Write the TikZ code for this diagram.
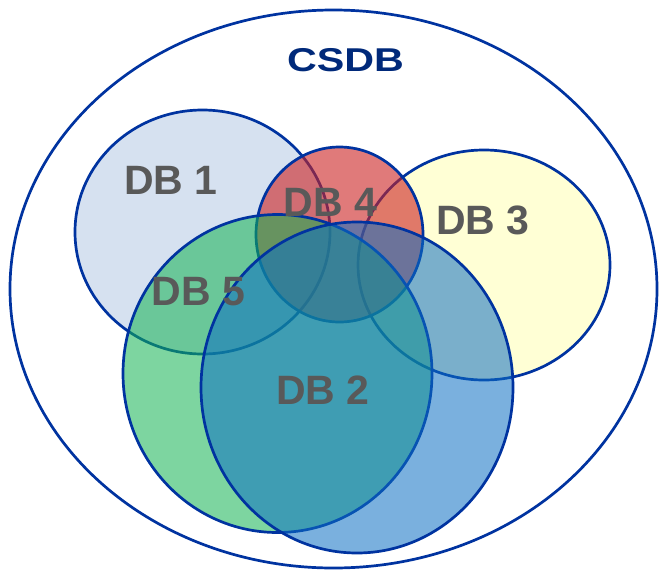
\documentclass[tikz,border=0pt]{standalone}
\usepackage{fontspec}
\setmainfont{Liberation Sans}
\usepackage{tikz}
\usetikzlibrary{shapes.geometric}
\definecolor{setline}{HTML}{0033A0}
\definecolor{labelgray}{HTML}{595959}
\definecolor{csdbblue}{HTML}{00297A}
\definecolor{dbonecol}{HTML}{D6E1F0}
\definecolor{dbthreecol}{HTML}{FFFFD5}
\definecolor{dbfourcol}{HTML}{CC2121}
\definecolor{dbfivecol}{HTML}{12B352}
\definecolor{dbtwocol}{HTML}{0D6FC3}
\tikzset{
  x=1pt, y=-1pt,
  dbset/.style={ellipse, draw=setline, line width=2.7pt, inner sep=0pt, outer sep=0pt},
  seethrough/.style={fill opacity=0.6},
  dblabel/.style={inner sep=0pt, text=labelgray, font=\bfseries\fontsize{41}{41}\selectfont},
}
\begin{document}
\begin{tikzpicture}
  \useasboundingbox (0,0) rectangle (660,570);

  % universe
  \node[dbset, minimum width=647pt, minimum height=558pt] (csdb) at (333.5,289) {};
  \node[inner sep=0pt, text=csdbblue, xscale=1.25,
        font=\bfseries\fontsize{33}{33}\selectfont] (csdbtext) at (345.5,60.5) {CSDB};

  % sets
  \node[dbset, fill=dbonecol, minimum width=255pt, minimum height=244pt] (db1) at (202.5,232) {};
  \node[dbset, fill=dbthreecol, minimum width=252pt, minimum height=230pt] (db3) at (484,265) {};
  \node[dbset, seethrough, fill=dbfourcol, minimum width=167pt, minimum height=175pt] (db4) at (339.5,234.5) {};
  \node[dbset, fill opacity=0.55, fill=dbfivecol, minimum width=309pt, minimum height=318pt] (db5) at (277.5,373.5) {};
  \node[dbset, fill opacity=0.55, fill=dbtwocol, minimum width=312pt, minimum height=331pt] (db2) at (357,387.5) {};

  % labels
  \node[dblabel] (lab1) at (171,180) {DB 1};
  \node[dblabel] (lab4) at (330.5,202) {DB 4};
  \node[dblabel] (lab3) at (483,220) {DB 3};
  \node[dblabel] (lab5) at (198.5,292) {DB 5};
  \node[dblabel] (lab2) at (323,390) {DB 2};
\end{tikzpicture}
\end{document}
